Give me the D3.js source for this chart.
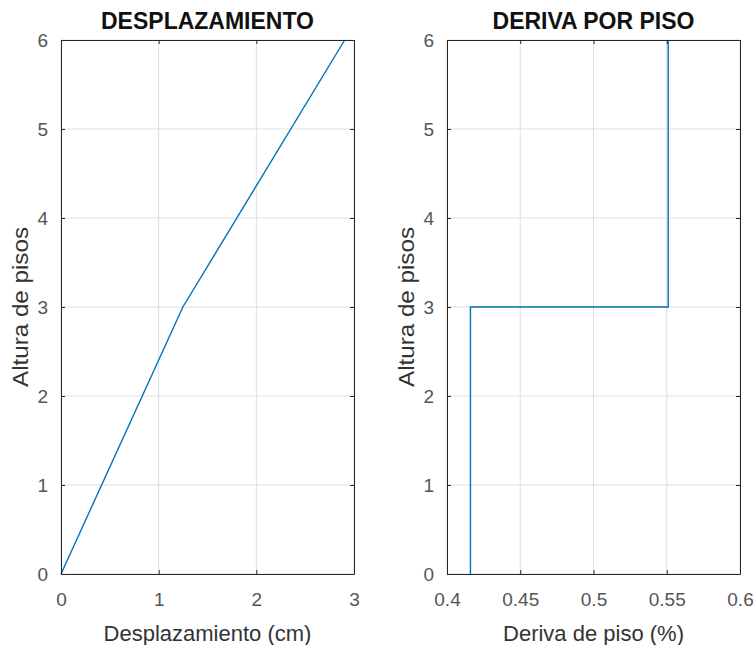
<!DOCTYPE html>
<html>
<head>
<meta charset="utf-8">
<script src="https://cdn.jsdelivr.net/npm/d3@7"></script>
<style>
body { margin: 0; background: #fff; }
svg { font-family: "Liberation Sans", Arial, sans-serif; }
</style>
</head>
<body>
<script>
// floor heights and results
var alturas = [0, 3, 6];
var desplazamiento = [0, 1.248, 2.905];
var deriva = [0.416, 0.551];   // one value per story
var ticksDesp = [0, 1, 2, 3];
var ticksDeriva = [0.4, 0.45, 0.5, 0.55, 0.6];
var ticksAltura = [0, 1, 2, 3, 4, 5, 6];

var W = 756, H = 645;
var svg = d3.select("body").append("svg").attr("width", W).attr("height", H);

var top_ = 40, bottom = 574;
var axColor = "#262626", lineColor = "#0072BD";

function panel(opts) {
  var x = d3.scaleLinear().domain(opts.xdom).range([opts.left, opts.right]);
  var y = d3.scaleLinear().domain([0, 6]).range([bottom, top_]);
  var g = svg.append("g");

  // grid
  g.selectAll(".gx").data(opts.xticks).enter().append("line")
    .attr("x1", function(d) { return x(d); }).attr("x2", function(d) { return x(d); })
    .attr("y1", top_).attr("y2", bottom)
    .attr("stroke", "#dfdfdf").attr("stroke-width", 1);
  g.selectAll(".gy").data(ticksAltura).enter().append("line")
    .attr("x1", opts.left).attr("x2", opts.right)
    .attr("y1", function(d) { return y(d); }).attr("y2", function(d) { return y(d); })
    .attr("stroke", "#dfdfdf").attr("stroke-width", 1);

  // data line
  g.append("path")
    .datum(opts.points)
    .attr("fill", "none")
    .attr("stroke", lineColor)
    .attr("stroke-width", 1.4)
    .attr("d", d3.line().x(function(d) { return x(d[0]); }).y(function(d) { return y(d[1]); }));

  // axes, ticks inside on all four sides
  var tl = -4;
  g.append("g").attr("transform", "translate(0," + bottom + ")")
    .call(d3.axisBottom(x).tickValues(opts.xticks).tickSizeInner(tl).tickSizeOuter(0).tickPadding(19).tickFormat(d3.format("")));
  g.append("g").attr("transform", "translate(0," + top_ + ")")
    .call(d3.axisTop(x).tickValues(opts.xticks).tickSizeInner(tl).tickSizeOuter(0).tickFormat(""));
  g.append("g").attr("transform", "translate(" + opts.left + ",0)")
    .call(d3.axisLeft(y).tickValues(ticksAltura).tickSizeInner(tl).tickSizeOuter(0).tickPadding(13).tickFormat(d3.format("d")));
  g.append("g").attr("transform", "translate(" + opts.right + ",0)")
    .call(d3.axisRight(y).tickValues(ticksAltura).tickSizeInner(tl).tickSizeOuter(0).tickFormat(""));

  g.selectAll(".domain").attr("stroke", axColor);
  g.selectAll(".tick line").attr("stroke", axColor);
  g.selectAll(".tick text").attr("fill", "#555").style("font-size", "19px").attr("font-family", null);

  var cx = (opts.left + opts.right) / 2;
  svg.append("text").attr("x", cx).attr("y", 29).attr("text-anchor", "middle")
    .style("font-size", "23px").style("font-weight", "bold").attr("fill", "#111")
    .text(opts.title);
  svg.append("text").attr("x", cx).attr("y", 641).attr("text-anchor", "middle")
    .style("font-size", "22px").attr("fill", "#333")
    .text(opts.xlabel);
  svg.append("text")
    .attr("transform", "translate(" + (opts.left - 33) + "," + ((top_ + bottom) / 2) + ") rotate(-90) scale(1.1,1)")
    .attr("text-anchor", "middle")
    .style("font-size", "22px").attr("fill", "#333")
    .text("Altura de pisos");
}

var ptsDesp = alturas.map(function(h, i) { return [desplazamiento[i], h]; });

// stairs: each story drift held between its floors
var ptsDeriva = [];
deriva.forEach(function(d, i) {
  ptsDeriva.push([d, alturas[i]]);
  ptsDeriva.push([d, alturas[i + 1]]);
});

panel({ left: 61, right: 354, xdom: [0, 3], xticks: ticksDesp, points: ptsDesp,
        title: "DESPLAZAMIENTO", xlabel: "Desplazamiento (cm)" });
panel({ left: 447, right: 740, xdom: [0.4, 0.6], xticks: ticksDeriva, points: ptsDeriva,
        title: "DERIVA POR PISO", xlabel: "Deriva de piso (%)" });
</script>
</body>
</html>
